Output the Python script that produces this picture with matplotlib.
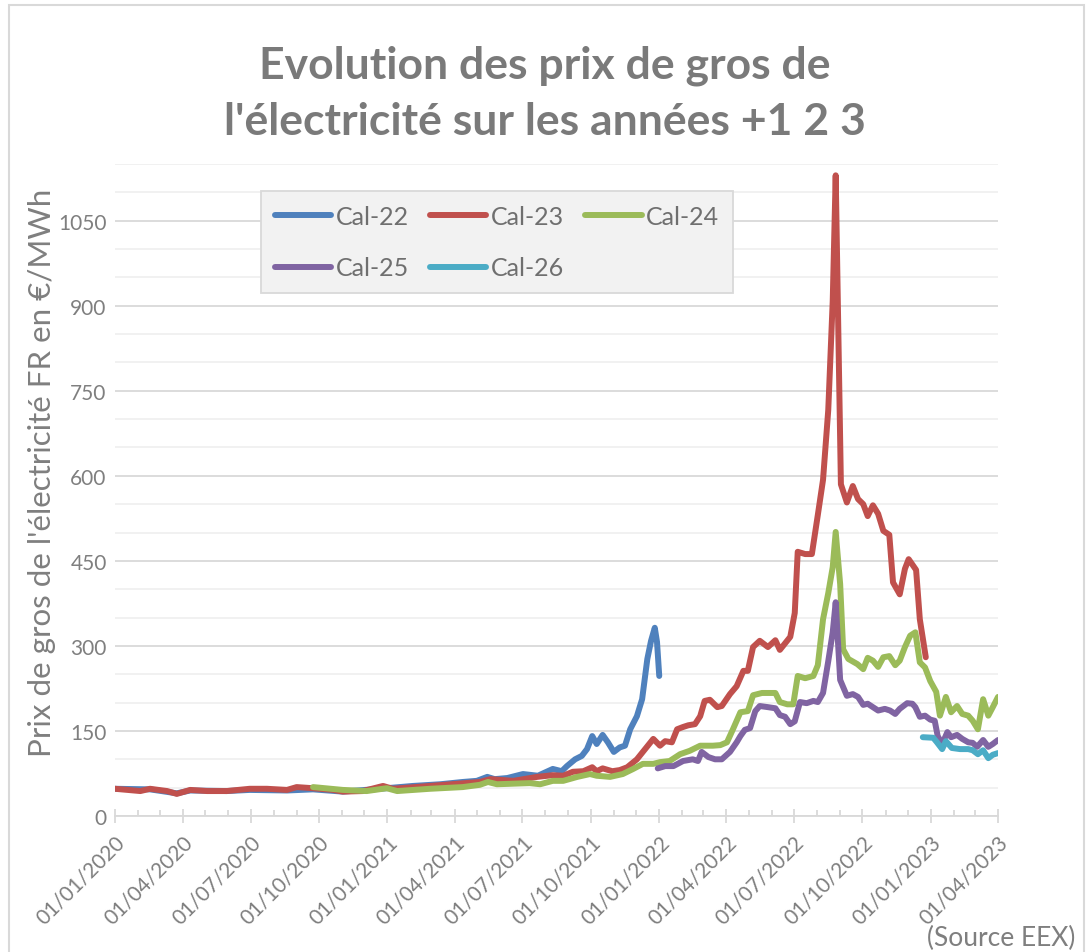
import matplotlib.pyplot as plt
import matplotlib.dates as mdates
import pandas as pd
from matplotlib.patches import Rectangle
from matplotlib.ticker import MultipleLocator

# weekly-ish readings of the EEX calendar contracts (EUR/MWh)
cal22_dates = [
    "2020-01-01", "2020-02-17", "2020-03-24", "2020-04-11", "2020-05-30",
    "2020-06-30", "2020-08-19", "2020-09-23", "2020-11-02", "2020-12-22",
    "2021-02-04", "2021-03-13", "2021-04-12", "2021-05-01", "2021-05-15",
    "2021-05-25", "2021-06-11", "2021-07-02", "2021-07-22", "2021-08-11",
    "2021-08-23", "2021-08-30", "2021-09-10", "2021-09-19", "2021-09-26",
    "2021-10-03", "2021-10-09", "2021-10-17", "2021-10-24", "2021-11-01",
    "2021-11-09", "2021-11-16", "2021-11-23", "2021-12-02", "2021-12-09",
    "2021-12-16", "2021-12-21", "2021-12-26", "2021-12-29", "2022-01-01",
]
cal22_prices = [
    48, 47, 40, 45, 44, 46, 45, 47, 43, 48,
    53, 56, 60, 62, 69, 65, 67, 74, 71, 83,
    79, 88, 100, 106, 118, 141, 127, 143, 130, 113,
    121, 124, 153, 176, 206, 277, 309, 332, 307, 247,
]

cal23_dates = [
    "2020-01-01", "2020-02-04", "2020-02-17", "2020-03-11", "2020-03-24",
    "2020-04-11", "2020-05-04", "2020-05-30", "2020-06-30", "2020-07-23",
    "2020-08-19", "2020-09-01", "2020-09-23", "2020-10-20", "2020-11-02",
    "2020-11-29", "2020-12-26", "2021-01-08", "2021-02-27", "2021-05-05",
    "2021-05-19", "2021-06-19", "2021-07-21", "2021-08-11", "2021-08-25",
    "2021-09-07", "2021-09-21", "2021-10-03", "2021-10-09", "2021-10-17",
    "2021-10-30", "2021-11-09", "2021-11-19", "2021-12-02", "2021-12-13",
    "2021-12-24", "2022-01-02", "2022-01-09", "2022-01-18", "2022-01-25",
    "2022-02-02", "2022-02-09", "2022-02-18", "2022-02-25", "2022-03-03",
    "2022-03-10", "2022-03-20", "2022-03-26", "2022-04-06", "2022-04-15",
    "2022-04-24", "2022-04-30", "2022-05-07", "2022-05-16", "2022-05-27",
    "2022-06-06", "2022-06-12", "2022-06-26", "2022-07-02", "2022-07-06",
    "2022-07-16", "2022-07-25", "2022-08-02", "2022-08-09", "2022-08-16",
    "2022-08-22", "2022-08-26", "2022-09-02", "2022-09-10", "2022-09-18",
    "2022-09-25", "2022-10-02", "2022-10-08", "2022-10-15", "2022-10-22",
    "2022-10-29", "2022-11-06", "2022-11-11", "2022-11-20", "2022-11-27",
    "2022-12-02", "2022-12-12", "2022-12-17", "2022-12-25",
]
cal23_prices = [
    48, 44, 48, 44, 39, 46, 44, 44, 48, 48,
    46, 51, 49, 46, 43, 44, 53, 48, 53, 60,
    65, 62, 69, 72, 71, 78, 79, 86, 79, 84,
    79, 81, 86, 100, 118, 136, 124, 132, 130, 153,
    157, 160, 162, 176, 203, 205, 192, 194, 215, 229,
    256, 256, 298, 309, 298, 310, 293, 316, 358, 466,
    462, 462, 531, 593, 716, 908, 1130, 585, 553, 582,
    559, 550, 529, 548, 533, 503, 496, 412, 391, 436,
    453, 434, 347, 280,
]

cal24_dates = [
    "2020-09-23", "2020-11-02", "2020-12-04", "2020-12-31", "2021-01-14",
    "2021-02-27", "2021-04-12", "2021-05-05", "2021-05-16", "2021-05-28",
    "2021-07-11", "2021-07-25", "2021-08-11", "2021-08-25", "2021-09-13",
    "2021-09-30", "2021-10-09", "2021-10-27", "2021-11-13", "2021-11-27",
    "2021-12-10", "2021-12-24", "2022-01-02", "2022-01-15", "2022-01-29",
    "2022-02-11", "2022-02-25", "2022-03-14", "2022-03-24", "2022-04-02",
    "2022-04-10", "2022-04-20", "2022-04-30", "2022-05-07", "2022-05-19",
    "2022-05-27", "2022-06-06", "2022-06-12", "2022-06-22", "2022-06-30",
    "2022-07-06", "2022-07-16", "2022-07-27", "2022-08-02", "2022-08-09",
    "2022-08-16", "2022-08-22", "2022-08-26", "2022-09-01", "2022-09-05",
    "2022-09-12", "2022-09-24", "2022-10-02", "2022-10-08", "2022-10-15",
    "2022-10-22", "2022-10-29", "2022-11-06", "2022-11-14", "2022-11-20",
    "2022-11-27", "2022-12-04", "2022-12-11", "2022-12-17", "2022-12-24",
    "2022-12-31", "2023-01-08", "2023-01-13", "2023-01-21", "2023-01-28",
    "2023-02-05", "2023-02-12", "2023-02-20", "2023-02-26", "2023-03-05",
    "2023-03-12", "2023-03-19", "2023-03-25", "2023-04-01",
]
cal24_prices = [
    51, 46, 44, 49, 44, 48, 51, 55, 60, 56,
    58, 56, 62, 62, 69, 74, 71, 69, 74, 83,
    92, 92, 95, 97, 109, 115, 124, 124, 125, 130,
    153, 183, 185, 213, 217, 217, 217, 201, 197, 197,
    247, 243, 247, 266, 347, 393, 439, 501, 409, 294,
    277, 268, 259, 279, 274, 263, 280, 282, 266, 274,
    298, 318, 324, 271, 262, 238, 219, 177, 210, 183,
    194, 180, 177, 168, 153, 206, 177, 192, 210,
]

cal25_dates = [
    "2021-12-30", "2022-01-09", "2022-01-20", "2022-02-02", "2022-02-15",
    "2022-02-22", "2022-02-27", "2022-03-08", "2022-03-17", "2022-03-26",
    "2022-04-06", "2022-04-15", "2022-04-20", "2022-04-26", "2022-05-03",
    "2022-05-10", "2022-05-16", "2022-05-27", "2022-06-06", "2022-06-12",
    "2022-06-19", "2022-06-26", "2022-07-02", "2022-07-09", "2022-07-18",
    "2022-07-27", "2022-08-02", "2022-08-09", "2022-08-16", "2022-08-22",
    "2022-08-26", "2022-09-01", "2022-09-10", "2022-09-18", "2022-09-25",
    "2022-10-02", "2022-10-08", "2022-10-15", "2022-10-22", "2022-10-31",
    "2022-11-07", "2022-11-14", "2022-11-20", "2022-11-30", "2022-12-07",
    "2022-12-11", "2022-12-17", "2022-12-24", "2022-12-31", "2023-01-06",
    "2023-01-10", "2023-01-16", "2023-01-23", "2023-01-28", "2023-02-05",
    "2023-02-12", "2023-02-20", "2023-02-26", "2023-03-04", "2023-03-12",
    "2023-03-19", "2023-03-25", "2023-04-01",
]
cal25_prices = [
    84, 88, 88, 97, 100, 97, 113, 104, 100, 100,
    113, 130, 141, 152, 155, 185, 194, 192, 190, 178,
    175, 162, 167, 201, 199, 203, 201, 217, 273, 324,
    377, 240, 212, 215, 210, 196, 198, 192, 186, 189,
    186, 180, 189, 199, 198, 192, 175, 177, 170, 168,
    141, 127, 148, 139, 143, 136, 130, 129, 122, 134,
    122, 127, 134,
]

cal26_dates = [
    "2022-12-21", "2023-01-04", "2023-01-09", "2023-01-16", "2023-01-21",
    "2023-01-29", "2023-02-09", "2023-02-20", "2023-02-26", "2023-03-05",
    "2023-03-12", "2023-03-19", "2023-03-25", "2023-04-01",
]
cal26_prices = [139, 138, 130, 118, 132, 120, 118, 118, 116, 109, 116, 102, 108, 111]

series_names = ["Cal-22", "Cal-23", "Cal-24", "Cal-25", "Cal-26"]
series_dates = [cal22_dates, cal23_dates, cal24_dates, cal25_dates, cal26_dates]
series_prices = [cal22_prices, cal23_prices, cal24_prices, cal25_prices, cal26_prices]
series_colors = ["#4f81bd", "#c0504d", "#9bbb59", "#8064a2", "#4bacc6"]

y_ticks = [0, 150, 300, 450, 600, 750, 900, 1050]

text_color = "#7f7f7f"
grid_color = "#d9d9d9"

plt.rcParams["font.family"] = ["Lato", "DejaVu Sans"]

W, H = 1089, 953
fig = plt.figure(figsize=(W / 100, H / 100), dpi=100)
ax = fig.add_axes([115 / W, 1 - 817 / H, (998 - 115) / W, (817 - 165) / H])

lines = []
for name, dates, prices, color in zip(series_names, series_dates, series_prices, series_colors):
    (line,) = ax.plot(
        pd.to_datetime(dates), prices, color=color, lw=4.3, label=name,
        solid_joinstyle="round", solid_capstyle="round",
    )
    lines.append(line)

ax.set_xlim(pd.Timestamp("2020-01-01"), pd.Timestamp("2023-04-01"))
ax.set_ylim(0, 1150)

ax.xaxis.set_major_locator(mdates.MonthLocator(bymonth=[1, 4, 7, 10]))
ax.xaxis.set_minor_locator(mdates.MonthLocator())
ax.xaxis.set_major_formatter(mdates.DateFormatter("%d/%m/%Y"))
ax.set_yticks(y_ticks)
ax.yaxis.set_minor_locator(MultipleLocator(50))

ax.tick_params(axis="x", which="major", direction="inout", length=10, width=1.3,
               color=grid_color, labelcolor=text_color, labelsize=15, pad=6)
ax.tick_params(axis="x", which="minor", direction="in", length=4, width=1.3, color=grid_color)
ax.tick_params(axis="y", which="both", length=0, labelcolor=text_color, labelsize=15, pad=6)
plt.setp(ax.get_xticklabels(), rotation=45, ha="right", va="top", rotation_mode="anchor")

ax.grid(which="minor", axis="y", color="#f0f0f0", lw=1.3)
ax.grid(which="major", axis="y", color=grid_color, lw=1.3)
ax.set_axisbelow(True)
for side in ["top", "right", "left"]:
    ax.spines[side].set_visible(False)
ax.spines["bottom"].set_color(grid_color)
ax.spines["bottom"].set_linewidth(1.3)

# row-wise legend: 22 23 24 / 25 26
order = [0, 3, 1, 4, 2]
leg = ax.legend(
    [lines[i] for i in order], [series_names[i] for i in order],
    ncol=3, loc="upper left", bbox_to_anchor=(261 / W, 1 - 192 / H),
    bbox_transform=fig.transFigure, borderaxespad=0, fancybox=False, framealpha=1,
    facecolor="#f2f2f2", edgecolor=grid_color, fontsize=18,
    handlelength=2.25, handletextpad=0.18, columnspacing=0.85, labelspacing=1.15,
    borderpad=0.55, labelcolor="#6f6f6f",
)
leg.get_frame().set_linewidth(1.3)

fig.text(0.5, 1 - 45 / H, "Evolution des prix de gros de\nl'électricité sur les années +1 2 3",
         ha="center", va="top", fontsize=32, fontweight="bold", color="#7a7a7a",
         linespacing=1.5)
fig.text(42 / W, 1 - 473 / H, "Prix de gros de l'électricité FR en €/MWh",
         rotation=90, ha="center", va="center", fontsize=22.5, color=text_color)
fig.text(1075 / W, 1 - 938 / H, "(Source EEX)", ha="right", va="center",
         fontsize=19, color=text_color)

fig.patches.append(Rectangle((9 / W, -0.01), (1084 - 9) / W, 1 - 6 / H + 0.01,
                             transform=fig.transFigure, fill=False,
                             edgecolor=grid_color, lw=1.5))

fig.savefig("out.png", dpi=100)
